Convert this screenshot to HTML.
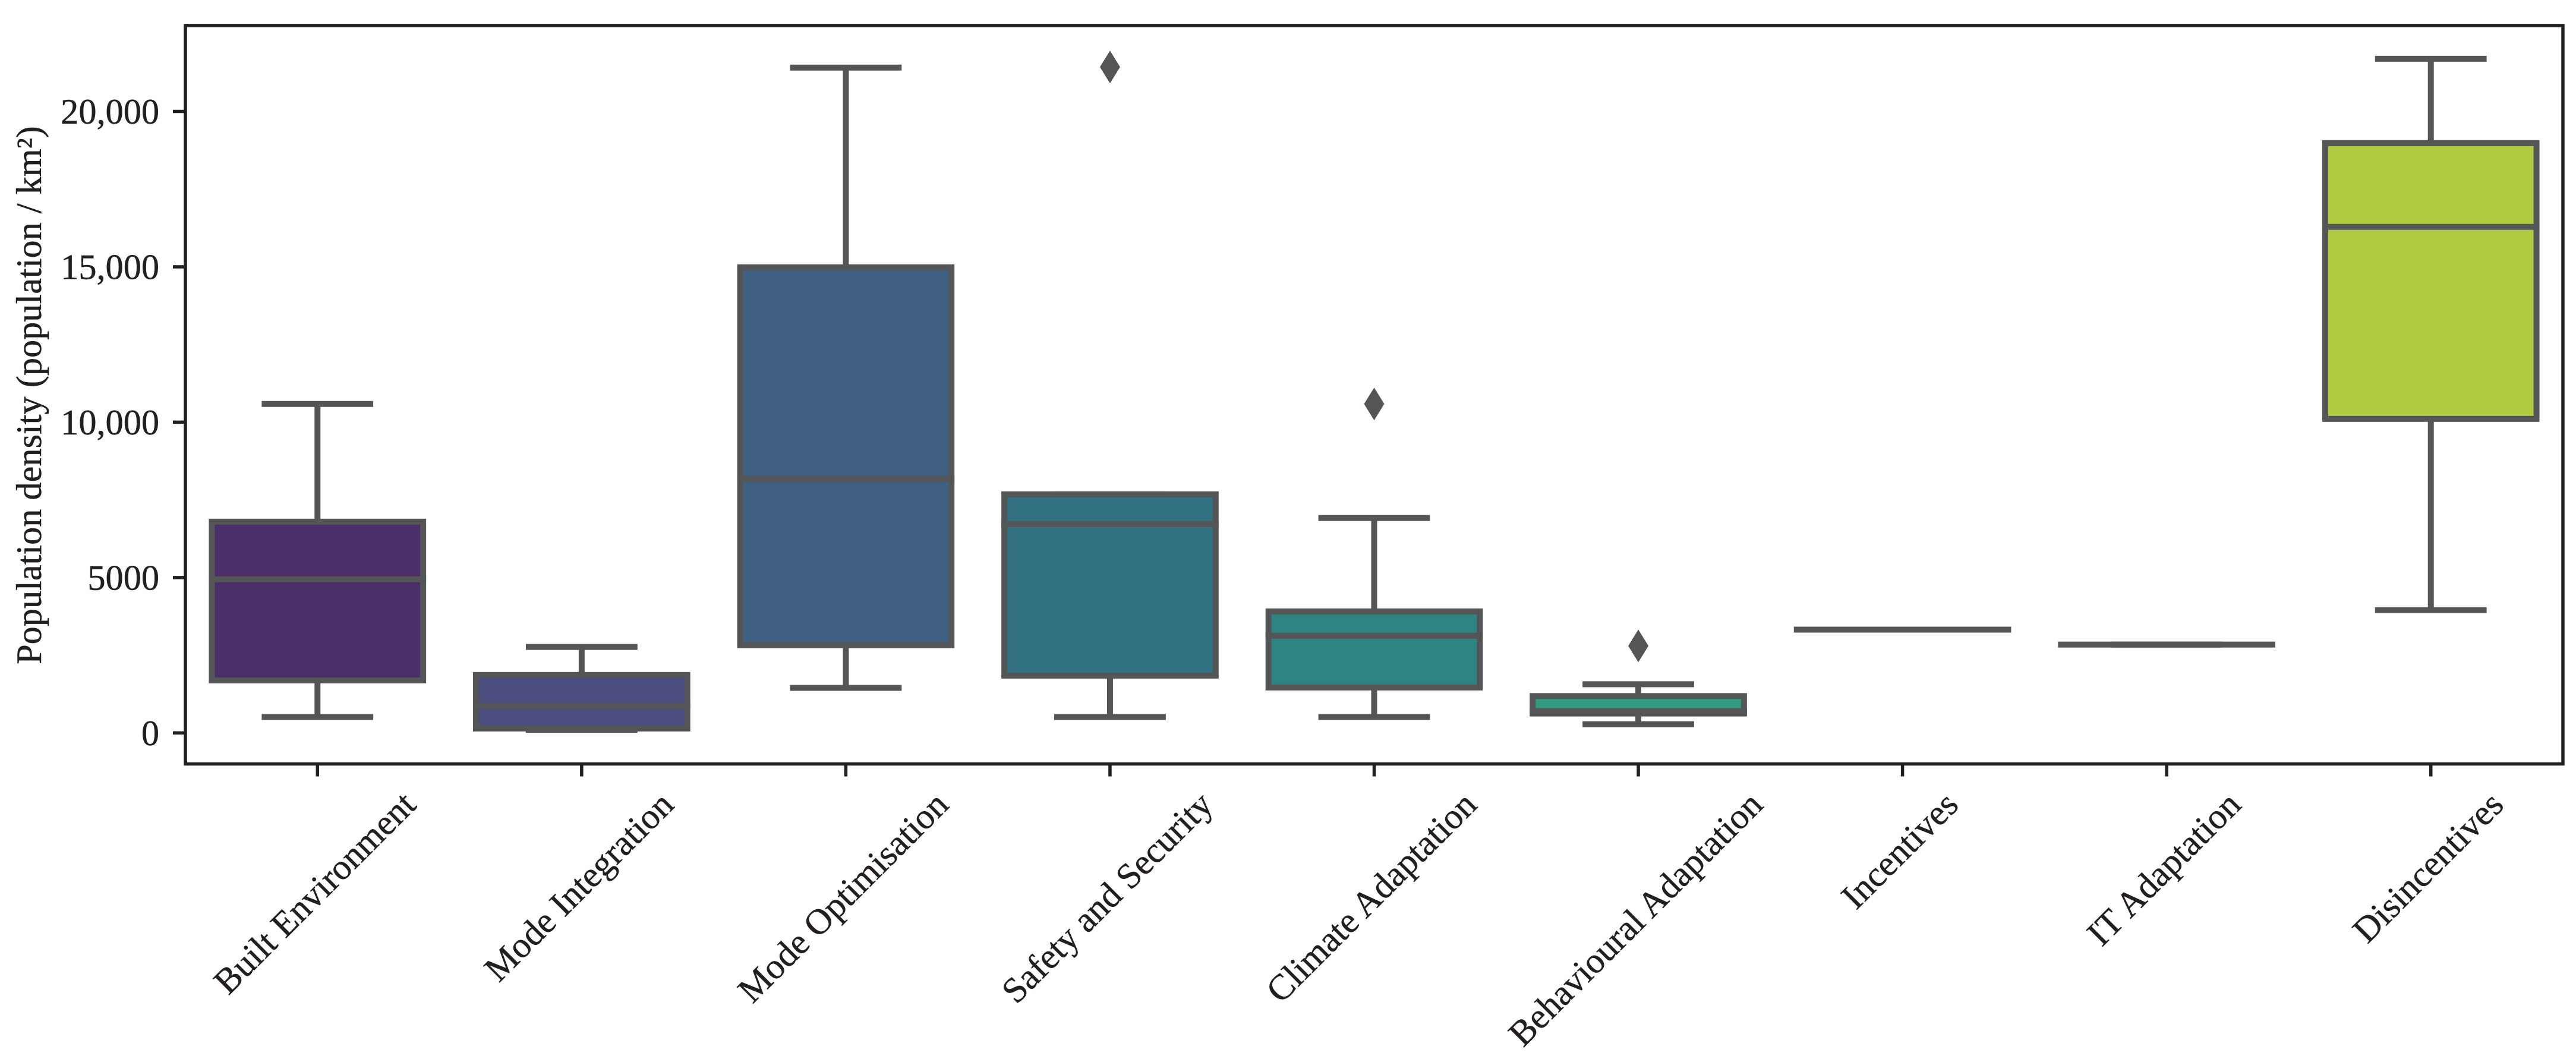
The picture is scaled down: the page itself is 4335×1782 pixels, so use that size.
<!DOCTYPE html>
<html lang="en">
<head>
<meta charset="utf-8">
<title>Population density by adaptation category</title>
<style>
  html, body { margin: 0; padding: 0; background: #ffffff; }
  #chart { display: block; width: 4335px; height: 1782px; }
  text { font-family: "Liberation Serif", "Times New Roman", serif; fill: #231f20; stroke: #231f20; stroke-width: 0.5px; font-size: 60.3px; }
</style>
</head>
<body>
<svg id="chart" xmlns="http://www.w3.org/2000/svg" width="4335" height="1782" viewBox="0 0 4335 1782">
  <rect x="0" y="0" width="4335" height="1782" fill="#ffffff"/>
  <g id="boxes"></g>
  <rect x="312" y="43" width="4001" height="1242.5" fill="none" stroke="#231f20" stroke-width="5.5"/>
  <g id="y-axis"></g>
  <g id="x-axis"></g>
  <text transform="translate(69 665) rotate(-90)" text-anchor="middle">Population density (population / km²)</text>
</svg>
<script>
const categories = ["Built Environment", "Mode Integration", "Mode Optimisation", "Safety and Security", "Climate Adaptation", "Behavioural Adaptation", "Incentives", "IT Adaptation", "Disincentives"];
const whiskerHigh = [10585, 2767, 21410, 7678, 6917, 1566, 3324, 2844, 21696];
const q3Values = [6798, 1864, 14984, 7678, 3911, 1186, 3324, 2844, 18980];
const medians = [4944, 870, 8175, 6722, 3127, 700, 3324, 2844, 16284];
const q1Values = [1692, 143, 2825, 1845, 1463, 625, 3324, 2844, 10107];
const whiskerLow = [512, 100, 1450, 512, 512, 281, 3324, 2844, 3949];
const outlierValues = [[], [], [], [21430], [10585], [2800], [], [], []];
const yTickValues = [0, 5000, 10000, 15000, 20000];
const yTickLabels = ["0", "5000", "10,000", "15,000", "20,000"];
const boxColors = ["#4a2f6a", "#4b4e7f", "#406082", "#327282", "#2d8480", "#309b80", "#2d8480", "#309b80", "#aeca3f"];

const NS = "http://www.w3.org/2000/svg";
const LINE = "#545557";
const DARK = "#231f20";
const plotLeft = 312, plotRight = 4313, zeroY = 1233.3, pxPerUnit = 0.05229;
const step = (plotRight - plotLeft) / categories.length;
const FONT = 60.3;

function xScale(i) { return plotLeft + step * (i + 0.5); }
function yScale(v) { return zeroY - v * pxPerUnit; }
function make(tag, attrs, parent) {
  const node = document.createElementNS(NS, tag);
  for (const k in attrs) node.setAttribute(k, attrs[k]);
  parent.appendChild(node);
  return node;
}
function slug(s) { return s.toLowerCase().replace(/\s+/g, "-"); }

const boxesG = document.getElementById("boxes");
const yAxisG = document.getElementById("y-axis");
const xAxisG = document.getElementById("x-axis");

categories.forEach(function (cat, i) {
  const cx = xScale(i);
  const name = slug(cat);
  const boxW = step * 0.8;
  const capW = step * 0.4;
  const group = make("g", {}, boxesG);
  
  

  const lineStyle = { stroke: LINE, "stroke-width": 10, fill: "none" };

  const upper = make("line", Object.assign({ x1: cx, x2: cx, y1: yScale(q3Values[i]), y2: yScale(whiskerHigh[i]) }, lineStyle), group);
  
  

  const lower = make("line", Object.assign({ x1: cx, x2: cx, y1: yScale(q1Values[i]), y2: yScale(whiskerLow[i]) }, lineStyle), group);
  
  

  const capHi = make("line", Object.assign({ x1: cx - capW / 2, x2: cx + capW / 2, y1: yScale(whiskerHigh[i]), y2: yScale(whiskerHigh[i]), "stroke-linecap": "square" }, lineStyle), group);
  
  

  const capLo = make("line", Object.assign({ x1: cx - capW / 2, x2: cx + capW / 2, y1: yScale(whiskerLow[i]), y2: yScale(whiskerLow[i]), "stroke-linecap": "square" }, lineStyle), group);
  
  

  const top = yScale(q3Values[i]);
  const bottom = yScale(q1Values[i]);
  const box = make("rect", { x: cx - boxW / 2, y: top, width: boxW, height: bottom - top, fill: boxColors[i], stroke: LINE, "stroke-width": 10 }, group);
  
  

  const med = make("line", Object.assign({ x1: cx - boxW / 2, x2: cx + boxW / 2, y1: yScale(medians[i]), y2: yScale(medians[i]), "stroke-linecap": "square" }, lineStyle), group);
  
  

  outlierValues[i].forEach(function (v) {
    const oy = yScale(v);
    const pts = [[cx, oy - 27.5], [cx + 17, oy], [cx, oy + 27.5], [cx - 17, oy]].map(function (p) { return p.join(","); }).join(" ");
    const o = make("polygon", { points: pts, fill: LINE }, group);
    
    
  });

  const tick = make("line", { x1: cx, x2: cx, y1: 1285.5, y2: 1306.5, stroke: DARK, "stroke-width": 5.5 }, xAxisG);
  
  

  const label = make("text", { "text-anchor": "middle" }, xAxisG);
  label.textContent = cat;
  
  
  const len = label.getComputedTextLength();
  const lx = cx;
  const ly = 1334 + (len + FONT * 0.66) * Math.SQRT1_2 / 2;
  label.setAttribute("x", lx);
  label.setAttribute("y", ly + FONT * 0.22);
  label.setAttribute("transform", "rotate(-45 " + lx + " " + ly + ")");
});

yTickValues.forEach(function (v, i) {
  const y = yScale(v);
  const tick = make("line", { x1: 291, x2: 312, y1: y, y2: y, stroke: DARK, "stroke-width": 5.5 }, yAxisG);
  
  
  const label = make("text", { x: 268, y: y + 20.5, "text-anchor": "end" }, yAxisG);
  label.textContent = yTickLabels[i];
  
  
});
</script>
</body>
</html>
